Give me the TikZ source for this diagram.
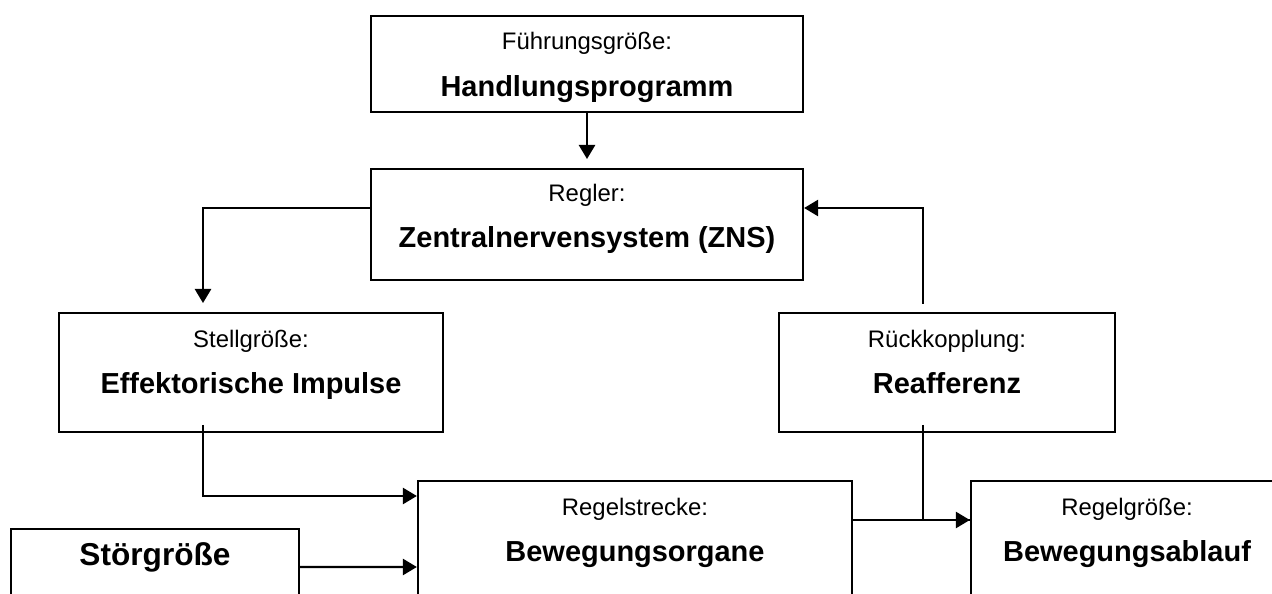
\documentclass[tikz,border=0pt]{standalone}
\usepackage{fontspec}
\setmainfont{Liberation Sans}
\usepackage{tikz}
\usetikzlibrary{arrows.meta, positioning}

\newcommand{\lblfont}{\fontsize{17pt}{33.3pt}\selectfont}
\newcommand{\headfont}{\fontsize{20.6pt}{33.3pt}\selectfont\bfseries}

\begin{document}
\begin{tikzpicture}[
    font=\lblfont,
    block/.style={draw, line width=1.6pt, anchor=north, align=center, inner ysep=0pt,
                  text height=57.4pt, text depth=26.9pt},
    arr/.style={-{Triangle[length=10pt, width=11.5pt]}, line width=1.6pt},
    ln/.style={line width=1.6pt},
]
\useasboundingbox (0,0) rectangle (31.8,-14.85);
\clip (0,0) rectangle (31.8,-14.85);

\node[block, minimum width=10.8cm, text depth=10.6pt] (prog) at (14.675, -0.375) {Führungsgröße:\\{\headfont Handlungsprogramm}};
\node[block, minimum width=10.8cm, text height=56pt, text depth=22.7pt] (zns) at (14.675, -4.2) {Regler:\\{\headfont Zentralnervensystem (ZNS)}};

\node[block, minimum width=9.6cm] (eff) at (6.275, -7.8) {Stellgröße:\\{\headfont Effektorische Impulse}};
\node[block, minimum width=8.4cm] (reaf) at (23.675, -7.8) {Rückkopplung:\\{\headfont Reafferenz}};

\node[block, minimum width=10.85cm] (organe) at (15.875, -12) {Regelstrecke:\\{\headfont Bewegungsorgane}};
\node[block, minimum width=7.8cm] (ablauf) at (28.175, -12) {Regelgröße:\\{\headfont Bewegungsablauf}};
\node[block, minimum width=7.2cm, text height=26.2pt, text depth=58pt, font=\fontsize{22.5pt}{26pt}\selectfont\bfseries] (stoer) at (3.875, -13.2) {Störgröße};

\draw[arr, shorten >=6.4pt] (prog) -- (zns);
\draw[arr, shorten >=6.4pt] ([yshift=-1cm]zns.north west) -| ([xshift=-1.2cm]eff.north);
\draw[arr] ([xshift=-0.6cm, yshift=0.2cm]reaf.north) |- ([yshift=-1cm]zns.north east);
\draw[arr] ([xshift=-1.2cm, yshift=0.2cm]eff.south) |- ([yshift=-0.4cm]organe.north west);
\draw[arr] ([yshift=-0.975cm]stoer.north east) -- ([yshift=-2.175cm]organe.north west);
\draw[arr] ([yshift=-1cm]organe.north east) -- ([yshift=-1cm]ablauf.north west);
\draw[ln] ([xshift=-0.6cm, yshift=0.2cm]reaf.south) |- ([yshift=-1cm]ablauf.north west);

\end{tikzpicture}
\end{document}
